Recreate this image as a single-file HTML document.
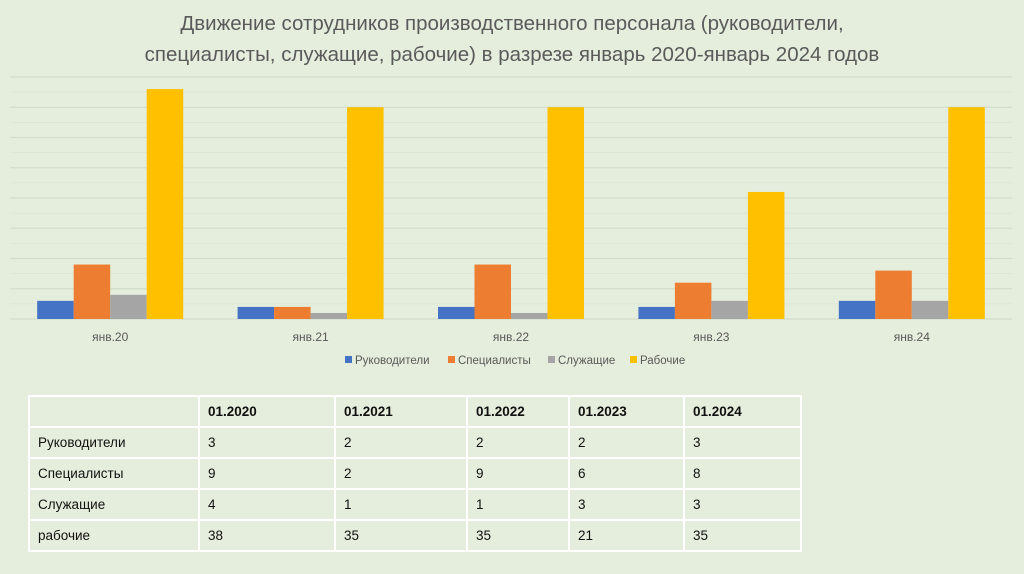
<!DOCTYPE html>
<html><head><meta charset="utf-8"><style>
body{margin:0;width:1024px;height:574px;background:#e5eedc;font-family:"Liberation Sans","Noto Sans CJK SC",sans-serif;overflow:hidden;position:relative}
#title{position:absolute;left:0;width:1024px;top:8px;text-align:center;color:#5a5a5a;font-size:20.5px;line-height:31px}
table{position:absolute;left:28px;top:395px;border-collapse:collapse;font-size:13.5px;color:#111}
td{border:2px solid #fff;height:29px;padding:0 0 0 8px}
th{border:2px solid #fff;height:29px;padding:0 0 0 8px;text-align:left;font-weight:bold}
</style></head><body>
<div id="title">Движение сотрудников производственного персонала (руководители,<br>специалисты, служащие, рабочие) в разрезе январь 2020-январь 2024 годов</div>
<svg id="chart" width="1024" height="380" style="position:absolute;left:0;top:0"></svg>
<table>
<tr><th style="width:160px"></th><th style="width:126px">01.2020</th><th style="width:122px">01.2021</th><th style="width:92px">01.2022</th><th style="width:105px">01.2023</th><th style="width:107px">01.2024</th></tr>
<tr><td>Руководители</td><td>3</td><td>2</td><td>2</td><td>2</td><td>3</td></tr>
<tr><td>Специалисты</td><td>9</td><td>2</td><td>9</td><td>6</td><td>8</td></tr>
<tr><td>Служащие</td><td>4</td><td>1</td><td>1</td><td>3</td><td>3</td></tr>
<tr><td>рабочие</td><td>38</td><td>35</td><td>35</td><td>21</td><td>35</td></tr>
</table>
<script>
const categories=["янв.20","янв.21","янв.22","янв.23","янв.24"];
const seriesNames=["Руководители","Специалисты","Служащие","Рабочие"];
const rukov=[3,2,2,2,3];
const spec=[9,2,9,6,8];
const sluzh=[4,1,1,3,3];
const rab=[38,35,35,21,35];
const series=[rukov,spec,sluzh,rab];
const colors=["#4472c4","#ed7d31","#a5a5a5","#ffc000"];
const svg=document.getElementById('chart');
const NS="http://www.w3.org/2000/svg";
const px0=10,px1=1012,pBase=319,pTop=77,ymax=40;
const yS=v=>pBase-(v/ymax)*(pBase-pTop);
const step=(px1-px0)/categories.length;
const bw=36.5;
function mk(t,a){const e=document.createElementNS(NS,t);for(const k in a)e.setAttribute(k,a[k]);svg.appendChild(e);return e;}
for(let v=0;v<=ymax;v+=2.5){const g=mk('line',{x1:px0,x2:px1,y1:yS(v),y2:yS(v),stroke:v%5===0?'#d3dccb':'#dbe4d3','stroke-width':v%5===0?1.3:0.8});

}
categories.forEach((c,i)=>{const cx=px0+step*(i+0.5);
series.forEach((s,j)=>{const r=mk('rect',{x:cx-2*bw+j*bw,y:yS(s[i]),width:bw,height:pBase-yS(s[i]),fill:colors[j]});

});
const t=mk('text',{x:cx,y:341,'text-anchor':'middle','font-size':12,fill:'#595959'});t.textContent=c;

});
const lx=[345,448,548,630];
seriesNames.forEach((n,j)=>{mk('rect',{x:lx[j],y:356,width:7,height:7,fill:colors[j]});
const t=mk('text',{x:lx[j]+10,y:364,'font-size':11.5,fill:'#595959'});t.textContent=n;

});
</script>
</body></html>
